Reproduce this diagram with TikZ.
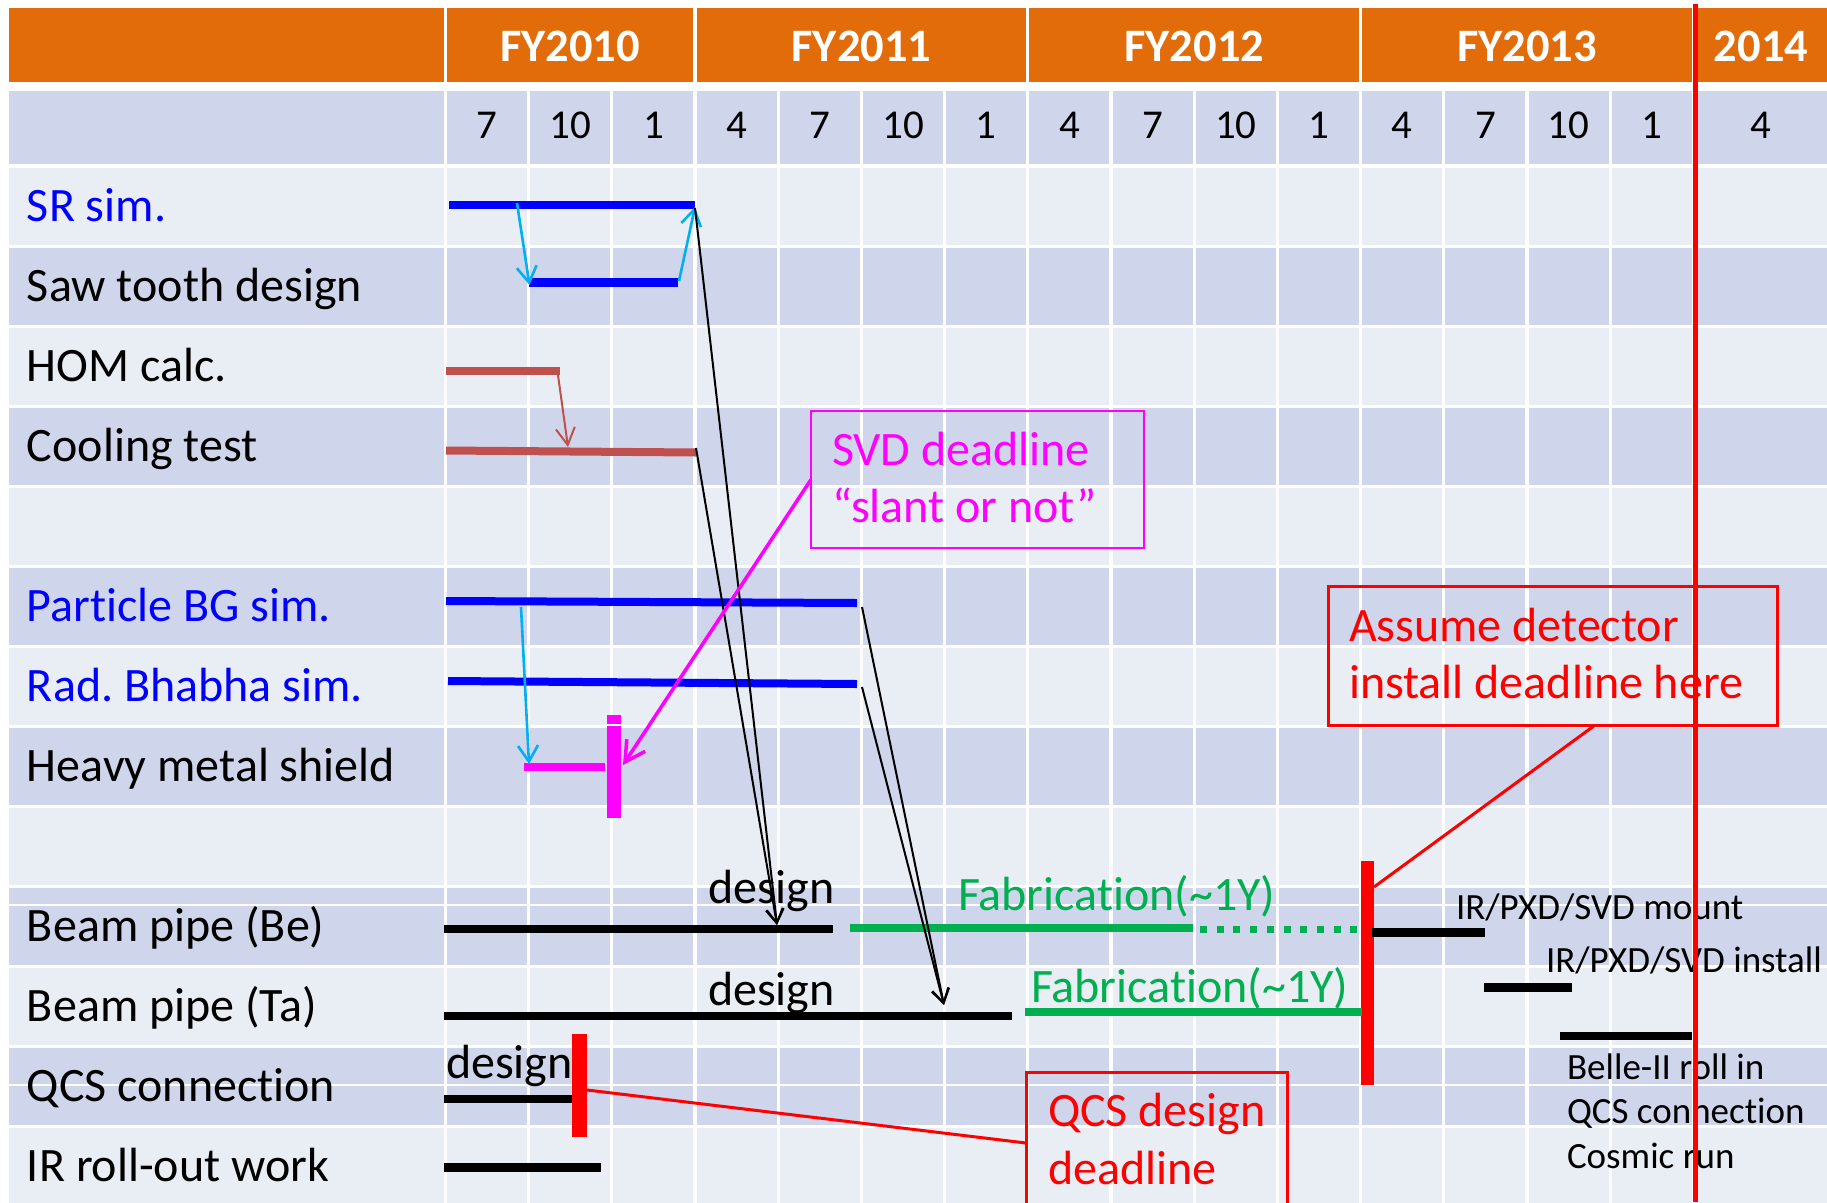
\documentclass[tikz,border=0pt]{standalone}
\usepackage{fontspec}
\setmainfont{Carlito}[Ligatures={NoCommon,NoRare,NoContextual}]
\usetikzlibrary{arrows.meta,calc}
\definecolor{hdrorange}{HTML}{E36C0A}
\definecolor{rowdark}{HTML}{CFD5EA}
\definecolor{rowlight}{HTML}{E9EDF4}
\definecolor{simblue}{HTML}{0000FF}
\definecolor{arrcyan}{HTML}{00B0F0}
\definecolor{brick}{HTML}{C0504D}
\definecolor{fabgreen}{HTML}{00B050}
\definecolor{mag}{HTML}{FF00FF}
\definecolor{dlred}{HTML}{FF0000}
\frenchspacing
\begin{document}
\begin{tikzpicture}[x=1pt,y=-1pt,
  lab/.style={anchor=base west, inner sep=0pt, outer sep=0pt, font=\fontsize{48}{57}\selectfont},
  note/.style={anchor=base west, inner sep=0pt, outer sep=0pt, font=\fontsize{37}{44}\selectfont},
  hdr/.style={anchor=base, inner sep=0pt, text=white, font=\bfseries\fontsize{46.5}{55}\selectfont},
  mon/.style={anchor=base, inner sep=0pt, font=\fontsize{41}{49}\selectfont},
  bar/.style={line width=8pt, line cap=butt},
  cyanarr/.style={draw=arrcyan, line width=2.6pt, -{Straight Barb[length=16pt,width=20pt]}},
  brickarr/.style={draw=brick, line width=2pt, -{Straight Barb[length=17pt,width=19pt]}},
  blackarr/.style={draw=black, line width=2pt, -{Straight Barb[length=14pt,width=17pt]}},
  magarr/.style={draw=mag, line width=3.5pt, -{Straight Barb[length=20pt,width=22pt]}},
  callout/.style={inner sep=0pt, outer sep=0pt, anchor=north west},
]
\useasboundingbox (0,0) rectangle (1827,1202);
\clip (0,0) rectangle (1827,1202);
\fill[white] (0,0) rectangle (1827,1202);

% ---------- header ----------
\fill[hdrorange] (9,8) rectangle (444,82);
\fill[hdrorange] (447,8) rectangle (693.4,82);
\fill[hdrorange] (696.6,8) rectangle (1026.2,82);
\fill[hdrorange] (1029.4,8) rectangle (1359,82);
\fill[hdrorange] (1362.2,8) rectangle (1691.8,82);
\fill[hdrorange] (1695,8) rectangle (1827,82);
\node[hdr] (fy10) at (570.2,61) {FY2010};
\node[hdr] (fy11) at (861.4,61) {FY2011};
\node[hdr] (fy12) at (1194.2,61) {FY2012};
\node[hdr] (fy13) at (1527,61) {FY2013};
\node[hdr] (fy14) at (1761,61) {2014};

% ---------- month row ----------
\fill[rowdark] (9,91) rectangle (444,164);
\foreach \m [count=\n from 0] in {7,10,1,4,7,10,1,4,7,10,1,4,7,10,1}{
  \fill[rowdark] ({447+83.2*\n},91) rectangle ({527+83.2*\n},164);
  \node[mon] (m\n) at ({487+83.2*\n},138) {\m};
}
\fill[rowdark] (1695,91) rectangle (1827,164);
\node[mon] (m15) at (1761,138) {4};

% ---------- data rows ----------
\foreach \k in {0,...,12}{
  \ifodd\k \def\rc{rowdark}\else\def\rc{rowlight}\fi
  \fill[\rc] (9,{167.5+80*\k}) rectangle (444,{244.5+80*\k});
  \foreach \i in {0,...,14}{
    \fill[\rc] ({447+83.2*\i},{167.5+80*\k}) rectangle ({527+83.2*\i},{244.5+80*\k});
  }
  \fill[\rc] (1695,{167.5+80*\k}) rectangle (1827,{244.5+80*\k});
}
\draw[white, line width=1.2pt] (9,905) -- (1827,905);
\draw[white, line width=1.2pt] (9,1085) -- (1827,1085);

% ---------- row labels ----------
\node[lab, text=simblue] (lsr) at (27,221) {SR sim.};
\node[lab] (lsaw) at (27,301) {Saw tooth design};
\node[lab] (lhom) at (27,381) {HOM calc.};
\node[lab] (lcool) at (27,461) {Cooling test};
\node[lab, text=simblue] (lpbg) at (27,621) {Particle BG sim.};
\node[lab, text=simblue] (lrad) at (27,701) {Rad. Bhabha sim.};
\node[lab] (lhvy) at (27,781) {Heavy metal shield};
\node[lab] (lbe) at (27,941) {Beam pipe (Be)};
\node[lab] (lta) at (27,1021) {Beam pipe (Ta)};
\node[lab] (lqcs) at (27,1101) {QCS connection};
\node[lab] (lir) at (27,1181) {IR roll-out work};

% ---------- bars ----------
\coordinate (srA) at (449,205);   \coordinate (srB) at (695,205);
\draw[bar, simblue] (srA) -- (srB);
\coordinate (sawA) at (529,282.5); \coordinate (sawB) at (678,282.5);
\draw[bar, simblue, line width=8.5pt] (sawA) -- (sawB);
\draw[bar, brick] (446,371) -- (560,371);
\draw[bar, brick] (446,450.5) -- (696,452.5);
\draw[bar, simblue] (446,601) -- (857,603);
\draw[bar, simblue] (448,681) -- (857,684);
\draw[bar, mag, line width=8.5pt] (524,767) -- (605,767);
\fill[mag] (607,715) rectangle (621,818);
\draw[white, line width=1.2pt] (607,725) -- (621,725);

% Be row
\draw[bar] (444,929) -- (833,929);
\draw[bar, fabgreen] (850,928) -- (1193,928);
\draw[fabgreen, line width=7pt, dash pattern=on 7pt off 9.7pt] (1200,929.5) -- (1367,929.5);
\node[lab] (dbe) at (708,903) {design};
\node[lab, text=fabgreen] (fbe) at (958,910) {Fabrication(\textasciitilde1Y)};
\fill[dlred] (1361,861) rectangle (1374,1085);
\draw[bar, line width=8.5pt] (1372,932.5) -- (1485,932.5);
\draw[bar, line width=8.5pt] (1484,987.5) -- (1572,987.5);
\draw[bar] (1560,1035.5) -- (1692,1035.5);
\node[note] (nmount) at (1456,919) {IR/PXD/SVD mount};
\node[note] (ninst) at (1546,972) {IR/PXD/SVD install};
\node[note] (nroll) at (1567,1079) {Belle-II roll in};
\node[note] (nqcs) at (1567,1123) {QCS connection};
\node[note] (ncos) at (1567,1168) {Cosmic run};

% Ta row
\draw[bar] (444,1015.5) -- (1012,1015.5);
\node[lab] (dta) at (708,1005) {design};
\draw[bar, fabgreen, line width=8.5pt] (1025,1012) -- (1362,1012);
\node[lab, text=fabgreen] (fta) at (1031,1002) {Fabrication(\textasciitilde1Y)};

% QCS and IR roll-out
\node[lab] (dqcs) at (446,1078) {design};
\draw[bar] (444,1099) -- (575,1099);
\fill[dlred] (572,1034) rectangle (587,1137);
\draw[bar, line width=9pt] (444,1167) -- (601,1167);

% ---------- callouts ----------
\node[callout, draw=mag, line width=2pt, minimum width=333pt, minimum height=137pt] (svd) at (811,411) {};
\node[lab, text=mag] (svd1) at (832,465) {SVD deadline};
\node[lab, text=mag] (svd2) at (832,522) {“slant or not”};

\node[callout, draw=dlred, line width=3pt, minimum width=449pt, minimum height=139pt] (assume) at (1328,586) {};
\node[lab, text=dlred] (as1) at (1349,641) {Assume detector};
\node[lab, text=dlred] (as2) at (1349,698) {install deadline here};

\node[callout, draw=dlred, line width=3pt, minimum width=261pt, minimum height=170pt] (qcsbox) at (1026,1072) {};
\node[lab, text=dlred] (qb1) at (1048,1126) {QCS design};
\node[lab, text=dlred] (qb2) at (1048,1184) {deadline};

% ---------- connectors ----------
\coordinate (c1s) at (517,203);  \coordinate (c1e) at (529.5,285);
\draw[cyanarr] (c1s) -- (c1e);
\coordinate (c2s) at (679,281);  \coordinate (c2e) at (695,207);
\draw[cyanarr] (c2s) -- (c2e);
\coordinate (b1s) at (557,368);  \coordinate (b1e) at (568,447);
\draw[brickarr] (b1s) -- (b1e);
\coordinate (c3s) at (521,607);  \coordinate (c3e) at (529,764);
\draw[cyanarr] (c3s) -- (c3e);

\coordinate (srEnd) at (695,208);  \coordinate (coolEnd) at (696,448);
\coordinate (beTip) at (777,925);
\draw[blackarr] (srEnd) -- (beTip);
\draw[blackarr] (coolEnd) -- (beTip);
\coordinate (pbgEnd) at (862,607); \coordinate (radEnd) at (862,687);
\coordinate (taTip) at (944,1005);
\draw[blackarr] (pbgEnd) -- (taTip);
\draw[blackarr] (radEnd) -- (taTip);

\coordinate (hvyDead) at (623,765);
\draw[magarr] (svd.west) -- (hvyDead);

\coordinate (asFoot) at ($(assume.south west)!0.595!(assume.south east)$);
\coordinate (beDead) at (1374,887);
\draw[dlred, line width=3pt] (asFoot) -- (beDead);
\coordinate (qcsDead) at (587,1090);
\coordinate (qcsIn) at (1026,1143);
\draw[dlred, line width=3pt] (qcsDead) -- (qcsIn);

% ---------- install deadline line ----------
\draw[dlred, line width=5pt] (1695,4) -- (1695,1202);
\end{tikzpicture}
\end{document}
